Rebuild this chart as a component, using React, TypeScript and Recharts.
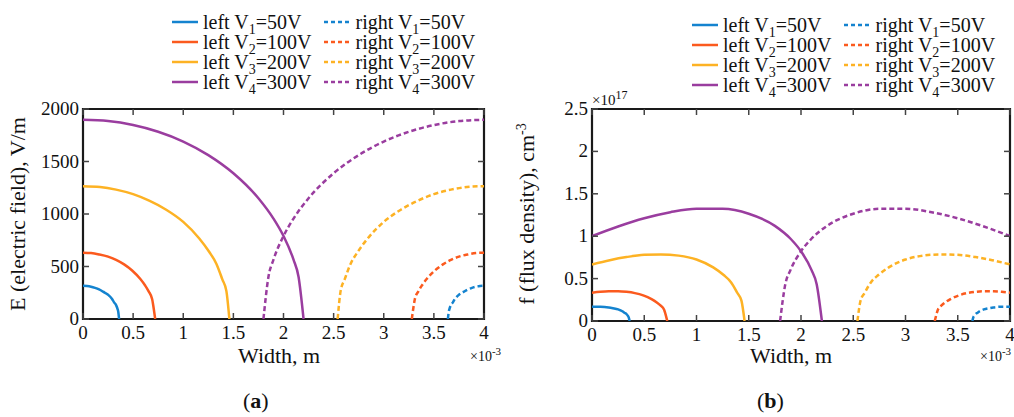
import React from "react";
import { LineChart, Line, XAxis, YAxis, ReferenceArea } from "recharts";

// x in units of 1e-3 m
const xTicks = [0, 0.5, 1, 1.5, 2, 2.5, 3, 3.5, 4];
const eTicks = [0, 500, 1000, 1500, 2000];
const fTicks = [0, 0.5, 1, 1.5, 2, 2.5];

const leftX1 = [0, 0.04, 0.08, 0.12, 0.16, 0.2, 0.25, 0.29, 0.31, 0.33, 0.345, 0.352, 0.36];
const leftX2 = [0, 0.08, 0.16, 0.25, 0.33, 0.41, 0.49, 0.57, 0.62, 0.655, 0.69, 0.7, 0.72];
const leftX3 = [0, 0.17, 0.33, 0.5, 0.66, 0.83, 1.0, 1.16, 1.26, 1.33, 1.39, 1.43, 1.46];
const leftX4 = [0, 0.25, 0.5, 0.75, 1.0, 1.25, 1.5, 1.75, 1.9, 2.0, 2.1, 2.15, 2.2];

const rightX1 = [3.64, 3.648, 3.655, 3.67, 3.69, 3.71, 3.75, 3.8, 3.84, 3.88, 3.92, 3.96, 4];
const rightX2 = [3.28, 3.3, 3.31, 3.345, 3.38, 3.43, 3.51, 3.59, 3.67, 3.75, 3.84, 3.92, 4];
const rightX3 = [2.54, 2.57, 2.61, 2.67, 2.74, 2.84, 3.0, 3.17, 3.34, 3.5, 3.67, 3.83, 4];
const rightX4 = [1.8, 1.85, 1.9, 2.0, 2.1, 2.25, 2.5, 2.75, 3.0, 3.25, 3.5, 3.75, 4];

// electric field, V/m
const eLeft1 = [316, 314, 308, 297, 282, 260, 231, 191, 159, 132, 94, 67, 0];
const eLeft2 = [632, 628, 615, 594, 563, 520, 462, 383, 319, 263, 188, 134, 0];
const eLeft3 = [1265, 1257, 1232, 1189, 1127, 1041, 925, 767, 638, 527, 377, 268, 0];
const eLeft4 = [1897, 1885, 1847, 1783, 1690, 1561, 1388, 1150, 956, 790, 565, 402, 0];
const eRight1 = [0, 67, 94, 132, 159, 191, 231, 260, 282, 297, 308, 314, 316];
const eRight2 = [0, 134, 188, 263, 319, 383, 462, 520, 563, 594, 615, 628, 632];
const eRight3 = [0, 268, 377, 527, 638, 767, 925, 1041, 1127, 1189, 1232, 1257, 1265];
const eRight4 = [0, 402, 565, 790, 956, 1150, 1388, 1561, 1690, 1783, 1847, 1885, 1897];

// flux density, x1e17 cm^-3
const fLeft1 = [0.167, 0.169, 0.169, 0.166, 0.16, 0.151, 0.137, 0.115, 0.097, 0.081, 0.058, 0.041, 0];
const fLeft2 = [0.333, 0.344, 0.35, 0.351, 0.344, 0.329, 0.302, 0.258, 0.219, 0.183, 0.133, 0.095, 0];
const fLeft3 = [0.667, 0.717, 0.754, 0.78, 0.785, 0.771, 0.725, 0.632, 0.542, 0.458, 0.333, 0.24, 0];
const fLeft4 = [1.0, 1.114, 1.211, 1.283, 1.324, 1.323, 1.265, 1.122, 0.97, 0.822, 0.603, 0.434, 0];
const fRight1 = [0, 0.041, 0.058, 0.081, 0.097, 0.115, 0.137, 0.151, 0.16, 0.166, 0.169, 0.169, 0.167];
const fRight2 = [0, 0.095, 0.133, 0.183, 0.219, 0.258, 0.302, 0.329, 0.344, 0.351, 0.35, 0.344, 0.333];
const fRight3 = [0, 0.24, 0.333, 0.458, 0.542, 0.632, 0.725, 0.771, 0.785, 0.78, 0.754, 0.717, 0.667];
const fRight4 = [0, 0.434, 0.603, 0.822, 0.97, 1.122, 1.265, 1.323, 1.324, 1.283, 1.211, 1.114, 1.0];

const colors = ["#1483cf", "#fb5a1e", "#fdb224", "#9a3d9f"];
const volts = ["50V", "100V", "200V", "300V"];

const FONT = "'Liberation Serif', 'Times New Roman', serif";

const toPts = (xs: number[], ys: number[]) => xs.map((x, i) => ({ x, y: ys[i] }));

const seriesE = [
  { name: "left", xs: [leftX1, leftX2, leftX3, leftX4], ys: [eLeft1, eLeft2, eLeft3, eLeft4] },
  { name: "right", xs: [rightX1, rightX2, rightX3, rightX4], ys: [eRight1, eRight2, eRight3, eRight4] },
];
const seriesF = [
  { name: "left", xs: [leftX1, leftX2, leftX3, leftX4], ys: [fLeft1, fLeft2, fLeft3, fLeft4] },
  { name: "right", xs: [rightX1, rightX2, rightX3, rightX4], ys: [fRight1, fRight2, fRight3, fRight4] },
];

const TICK_LEN = 6;
const tickColor = "#444";

function LegendBox(props: { left: number; top: number }) {
  const row = (side: string, i: number) => (
    <div key={side + i} style={{ display: "flex", alignItems: "center", height: 20, whiteSpace: "nowrap" }}>
      <svg width={28} height={10} style={{ marginRight: 4 }}>
        <line
          x1={1}
          x2={27}
          y1={5}
          y2={5}
          stroke={colors[i]}
          strokeWidth={2.5}
          strokeDasharray={side === "right" ? "4 3" : undefined}
        />
      </svg>
      <span>
        {side} V<sub style={{ fontSize: 14, verticalAlign: -5, lineHeight: 0 }}>{i + 1}</sub>={volts[i]}
      </span>
    </div>
  );
  return (
    <div
      style={{
        position: "absolute",
        left: props.left,
        top: props.top,
        display: "flex",
        fontFamily: FONT,
        fontSize: 20,
        color: "#111",
        lineHeight: "20px",
      }}
    >
      <div style={{ marginRight: 12 }}>{[0, 1, 2, 3].map((i) => row("left", i))}</div>
      <div>{[0, 1, 2, 3].map((i) => row("right", i))}</div>
    </div>
  );
}

function Panel(props: {
  left: number;
  width: number;
  margin: { top: number; left: number; right: number; bottom: number };
  series: typeof seriesE;
  yDomain: [number, number];
  yTicks: number[];
}) {
  const { series, margin } = props;
  const plotW = props.width - margin.left - 60 - margin.right;
  const plotH = 417 - margin.top - margin.bottom - 30;

  const xTick = (p: any) => (
    <g>
      <line x1={p.x} x2={p.x} y1={p.y} y2={p.y - TICK_LEN} stroke={tickColor} strokeWidth={1.5} />
      <line x1={p.x} x2={p.x} y1={p.y - plotH} y2={p.y - plotH + TICK_LEN} stroke={tickColor} strokeWidth={1.5} />
      <text x={p.x} y={p.y + 20} textAnchor="middle" fontFamily={FONT} fontSize={19} fill="#111">
        {p.payload.value}
      </text>
    </g>
  );
  const yTick = (p: any) => (
    <g>
      <line x1={p.x} x2={p.x + TICK_LEN} y1={p.y} y2={p.y} stroke={tickColor} strokeWidth={1.5} />
      <line x1={p.x + plotW} x2={p.x + plotW - TICK_LEN} y1={p.y} y2={p.y} stroke={tickColor} strokeWidth={1.5} />
      <text x={p.x - 4} y={p.y + 6} textAnchor="end" fontFamily={FONT} fontSize={19} fill="#111">
        {p.payload.value}
      </text>
    </g>
  );

  return (
    <div style={{ position: "absolute", left: props.left, top: 0 }}>
      <LineChart width={props.width} height={417} margin={margin}>
        <XAxis
          xAxisId="b"
          type="number"
          dataKey="x"
          domain={[0, 4]}
          ticks={xTicks}
          height={30}
          tickSize={0}
          tickMargin={0}
          tick={xTick}
          axisLine={false}
          tickLine={false}
          interval={0}
          allowDataOverflow
        />
        <YAxis
          yAxisId="l"
          type="number"
          dataKey="y"
          domain={props.yDomain}
          ticks={props.yTicks}
          width={60}
          tickSize={0}
          tickMargin={0}
          tick={yTick}
          axisLine={false}
          tickLine={false}
          interval={0}
          allowDataOverflow
        />
        {series.map((s) =>
          s.xs.map((xs, i) => (
            <Line
              key={s.name + i}
              xAxisId="b"
              yAxisId="l"
              data={toPts(xs, s.ys[i])}
              dataKey="y"
              type="monotone"
              stroke={colors[i]}
              strokeWidth={2.5}
              strokeDasharray={s.name === "right" ? "5 3" : undefined}
              dot={false}
              activeDot={false}
              isAnimationActive={false}
            />
          ))
        )}
        <ReferenceArea
          xAxisId="b"
          yAxisId="l"
          x1={0}
          x2={4}
          y1={props.yDomain[0]}
          y2={props.yDomain[1]}
          fill="none"
          fillOpacity={0}
          stroke="#1a1a1a"
          strokeWidth={2.2}
          ifOverflow="visible"
        />
      </LineChart>
    </div>
  );
}

export default function App() {
  const txt: React.CSSProperties = { position: "absolute", fontFamily: FONT, color: "#111", whiteSpace: "nowrap" };
  return (
    <div style={{ position: "absolute", left: 0, top: 0, width: 1014, height: 417, background: "#fff", overflow: "hidden" }}>
      <Panel
        left={0}
        width={505}
        margin={{ top: 109, left: 23, right: 21, bottom: 68 }}
        series={seriesE}
        yDomain={[0, 2000]}
        yTicks={eTicks}
      />
      <Panel
        left={505}
        width={509}
        margin={{ top: 109, left: 27, right: 4, bottom: 66 }}
        series={seriesF}
        yDomain={[0, 2.5]}
        yTicks={fTicks}
      />
      <LegendBox left={171} top={12} />
      <LegendBox left={691} top={15} />

      {/* axis titles and panel captions */}
      <div style={{ ...txt, left: 238, top: 343, fontSize: 22 }}>Width, m</div>
      <div style={{ ...txt, left: 750, top: 343, fontSize: 22 }}>Width, m</div>
      <div style={{ ...txt, left: 470, top: 345, fontSize: 14 }}>
        ×10<sup style={{ fontSize: 11 }}>-3</sup>
      </div>
      <div style={{ ...txt, left: 980, top: 345, fontSize: 14 }}>
        ×10<sup style={{ fontSize: 11 }}>-3</sup>
      </div>
      <div style={{ ...txt, left: 592, top: 88, fontSize: 15 }}>
        ×10<sup style={{ fontSize: 12 }}>17</sup>
      </div>
      <div
        style={{
          ...txt,
          left: 18,
          top: 214,
          fontSize: 22,
          transform: "translate(-50%, -50%) rotate(-90deg)",
        }}
      >
        E (electric field), V/m
      </div>
      <div
        style={{
          ...txt,
          left: 527,
          top: 214,
          fontSize: 22,
          transform: "translate(-50%, -50%) rotate(-90deg)",
        }}
      >
        f (flux density), cm<sup style={{ fontSize: 14 }}>-3</sup>
      </div>
      <div style={{ ...txt, left: 243, top: 388, fontSize: 22 }}>
        (<b>a</b>)
      </div>
      <div style={{ ...txt, left: 757, top: 388, fontSize: 22 }}>
        (<b>b</b>)
      </div>
    </div>
  );
}
